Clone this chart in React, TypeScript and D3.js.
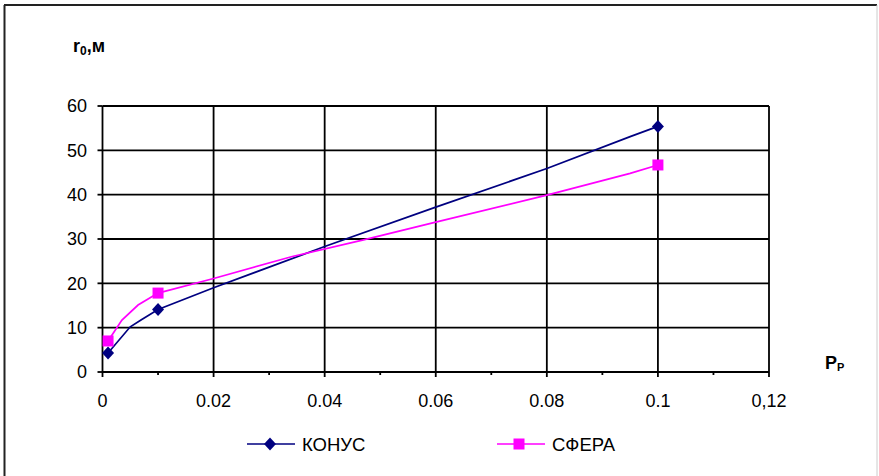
import React from "react";
import * as d3 from "d3";

const W = 879;
const H = 476;

// axis ticks
const xTicks = [0, 0.02, 0.04, 0.06, 0.08, 0.1, 0.12];
const xTickLabels = ["0", "0.02", "0.04", "0.06", "0.08", "0.1", "0,12"];
const xMinorTicks = [0.01, 0.03, 0.05, 0.07, 0.09, 0.11];
const yTicks = [0, 10, 20, 30, 40, 50, 60];

// series (markers)
const markerX = [0.001, 0.01, 0.1];
const konusMarkers = [4.3, 14.1, 55.4];
const sferaMarkers = [7.0, 17.8, 46.7];

// series line vertices
const konusLineX = [0.001, 0.005, 0.007, 0.01, 0.02, 0.04, 0.06, 0.08, 0.095, 0.1];
const konusLineY = [4.3, 10.2, 11.8, 14.1, 19.0, 28.3, 37.2, 45.9, 53.1, 55.4];
const sferaLineX = [0.001, 0.0035, 0.0064, 0.01, 0.02, 0.034, 0.047, 0.06, 0.08, 0.095, 0.1];
const sferaLineY = [7.0, 11.7, 15.1, 17.8, 21.1, 26.0, 29.8, 33.8, 39.9, 44.8, 46.7];

const seriesNames = ["КОНУС", "СФЕРА"];
const NAVY = "#000080";
const PINK = "#FF00FF";
const FONT = "Arial, 'Liberation Sans', sans-serif";

export default function App() {
  const x = d3.scaleLinear().domain([0, 0.12]).range([102.5, 769]);
  const y = d3.scaleLinear().domain([0, 60]).range([372, 106]);

  const line = d3
    .line<[number, number]>()
    .x((d) => x(d[0]))
    .y((d) => y(d[1]));

  const konusPts: [number, number][] = konusLineX.map((v, i) => [v, konusLineY[i]]);
  const sferaPts: [number, number][] = sferaLineX.map((v, i) => [v, sferaLineY[i]]);

  const dia = (cx: number, cy: number, key: string) => (
    <path key={key} d={`M${cx},${cy - 6.5}L${cx + 6},${cy}L${cx},${cy + 6.5}L${cx - 6},${cy}Z`} fill={NAVY} />
  );
  const sq = (cx: number, cy: number, key: string) => (
    <rect key={key} x={cx - 5.5} y={cy - 5.5} width={11} height={11} fill={PINK} />
  );

  return (
    <div style={{ position: "absolute", left: 0, top: 0 }}>
      <svg width={W} height={H} style={{ display: "block", background: "#fff" }}>
        {/* outer border */}
        <line x1={4.5} y1={5} x2={4.5} y2={H} stroke="#222" strokeWidth={2} />
        <line x1={4} y1={5} x2={877} y2={5} stroke="#222" strokeWidth={2} />
        <line x1={877} y1={5} x2={877} y2={H} stroke="#ccc" strokeWidth={1} />

        {/* grid */}
        {yTicks.map((t) => (
          <line key={"gy" + t} x1={x(0)} x2={x(0.12)} y1={y(t)} y2={y(t)} stroke="#000" strokeWidth={1.8} />
        ))}
        {xTicks.map((t) => (
          <line key={"gx" + t} x1={x(t)} x2={x(t)} y1={y(0)} y2={y(60)} stroke="#000" strokeWidth={1.8} />
        ))}
        {/* y ticks */}
        {yTicks.map((t) => (
          <line key={"ty" + t} x1={x(0) - 5} x2={x(0)} y1={y(t)} y2={y(t)} stroke="#000" strokeWidth={1.8} />
        ))}
        {/* x ticks */}
        {xTicks.map((t) => (
          <line key={"tx" + t} x1={x(t)} x2={x(t)} y1={y(0)} y2={y(0) + 5} stroke="#000" strokeWidth={1.8} />
        ))}
        {xMinorTicks.map((t) => (
          <line key={"tm" + t} x1={x(t)} x2={x(t)} y1={y(0)} y2={y(0) + 3} stroke="#000" strokeWidth={1.8} />
        ))}

        {/* y labels */}
        {yTicks.map((t) => (
          <text
            key={"ly" + t}
            x={87}
            y={y(t)}
            dy="0.36em"
            textAnchor="end"
            fontFamily={FONT}
            fontSize={18}
            fill="#000"
          >
            {t}
          </text>
        ))}
        {/* x labels */}
        {xTicks.map((t, i) => (
          <text
            key={"lx" + t}
            x={x(t)}
            y={407}
            textAnchor="middle"
            fontFamily={FONT}
            fontSize={18}
            fill="#000"
          >
            {xTickLabels[i]}
          </text>
        ))}

        {/* axis titles */}
        <text x={73} y={52} fontFamily={FONT} fontSize={18} fontWeight="bold" fill="#000">
          r<tspan fontSize={12} dy={3}>0</tspan>
          <tspan dy={-3}>,м</tspan>
        </text>
        <text x={825} y={369} fontFamily={FONT} fontSize={18} fontWeight="bold" fill="#000">
          P<tspan fontSize={11} dy={2}>P</tspan>
        </text>

        {/* lines */}
        <path d={line(konusPts) || ""} fill="none" stroke={NAVY} strokeWidth={1.7} />
        <path d={line(sferaPts) || ""} fill="none" stroke={PINK} strokeWidth={1.7} />

        {/* markers */}
        {markerX.map((v, i) => dia(x(v), y(konusMarkers[i]), "k" + i))}
        {markerX.map((v, i) => sq(x(v), y(sferaMarkers[i]), "s" + i))}

        {/* legend */}
        <line x1={247} x2={295} y1={444} y2={444} stroke={NAVY} strokeWidth={1.7} />
        {dia(270, 444, "lk")}
        <text x={302} y={444} dy="0.36em" fontFamily={FONT} fontSize={18.5} fill="#000">
          {seriesNames[0]}
        </text>
        <line x1={497} x2={545} y1={444} y2={444} stroke={PINK} strokeWidth={1.7} />
        {sq(519, 444, "ls")}
        <text x={552} y={444} dy="0.36em" fontFamily={FONT} fontSize={18.5} fill="#000">
          {seriesNames[1]}
        </text>
      </svg>
    </div>
  );
}
